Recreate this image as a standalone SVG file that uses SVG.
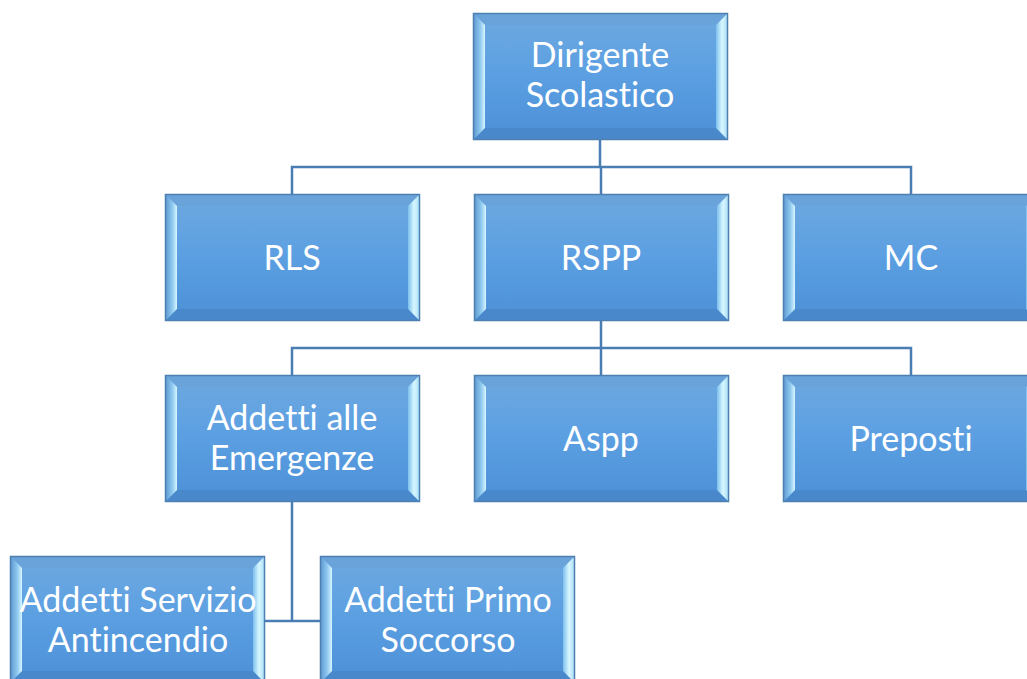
<svg xmlns="http://www.w3.org/2000/svg" xmlns:xlink="http://www.w3.org/1999/xlink" width="1027" height="679" viewBox="0 0 1027 679">
<style>
.lbl{font-family:Lato,"Open Sans","Liberation Sans",sans-serif;font-size:34px;fill:#ffffff;text-anchor:middle;font-variant-ligatures:none}
.conn{fill:none;stroke:#4a7db3;stroke-width:2.5}
</style>
<defs>
<linearGradient id="face" x1="0" y1="0" x2="0" y2="1">
<stop offset="0" stop-color="#6ea9e0"/>
<stop offset="0.5" stop-color="#5b9fe2"/>
<stop offset="1" stop-color="#4c8fd6"/>
</linearGradient>
<linearGradient id="lb" x1="0" y1="0" x2="1" y2="0">
<stop offset="0" stop-color="#5a94cf"/>
<stop offset="0.6" stop-color="#8ec9ef"/>
<stop offset="1" stop-color="#d8f6ff"/>
</linearGradient>
<linearGradient id="rb" x1="0" y1="0" x2="1" y2="0">
<stop offset="0" stop-color="#7cc0ee"/>
<stop offset="0.5" stop-color="#d8f7ff"/>
<stop offset="1" stop-color="#a6dcf6"/>
</linearGradient>
<g id="box">
<rect x="0" y="0" width="255" height="127" fill="url(#face)"/>
<polygon points="0,0 255,0 243,12 12,12" fill="#6aa3da"/>
<polygon points="0,127 255,127 243,115 12,115" fill="#4a88cc"/>
<polygon points="0,0 12,12 12,115 0,127" fill="url(#lb)"/>
<polygon points="255,0 243,12 243,115 255,127" fill="url(#rb)"/>
<rect x="0.5" y="0.5" width="254" height="126" fill="none" stroke="#4d7fb0" stroke-width="1.5"/>
</g>
</defs>
<rect width="1027" height="679" fill="#ffffff"/>
<g id="connectors">
<path class="conn" d="M600 139 V167 M292 194 V167 H911 V194 M601 167 V194"/>
<path class="conn" d="M601 321 V348 M292 375 V348 H911 V375 M601 348 V375"/>
<path class="conn" d="M292 502 V621 M265 621 H320"/>
</g>
<g id="dirigente"><use xlink:href="#box" x="473" y="13"/><text class="lbl" x="600" y="67">Dirigente</text><text class="lbl" x="600" y="107">Scolastico</text></g>
<g id="rls"><use xlink:href="#box" x="165" y="194"/><text class="lbl" x="292" y="270">RLS</text></g>
<g id="rspp"><use xlink:href="#box" x="474" y="194"/><text class="lbl" x="601" y="270">RSPP</text></g>
<g id="mc"><use xlink:href="#box" x="783" y="194"/><text class="lbl" x="911" y="270">MC</text></g>
<g id="addetti-emergenze"><use xlink:href="#box" x="165" y="375"/><text class="lbl" x="292" y="430">Addetti alle</text><text class="lbl" x="292" y="470">Emergenze</text></g>
<g id="aspp"><use xlink:href="#box" x="474" y="375"/><text class="lbl" x="601" y="451">Aspp</text></g>
<g id="preposti"><use xlink:href="#box" x="783" y="375"/><text class="lbl" x="911" y="451">Preposti</text></g>
<g id="addetti-antincendio"><use xlink:href="#box" x="10" y="556"/><text class="lbl" x="138" y="612">Addetti Servizio</text><text class="lbl" x="138" y="652">Antincendio</text></g>
<g id="addetti-primo-soccorso"><use xlink:href="#box" x="320" y="556"/><text class="lbl" x="448" y="612">Addetti Primo</text><text class="lbl" x="448" y="652">Soccorso</text></g>
</svg>
